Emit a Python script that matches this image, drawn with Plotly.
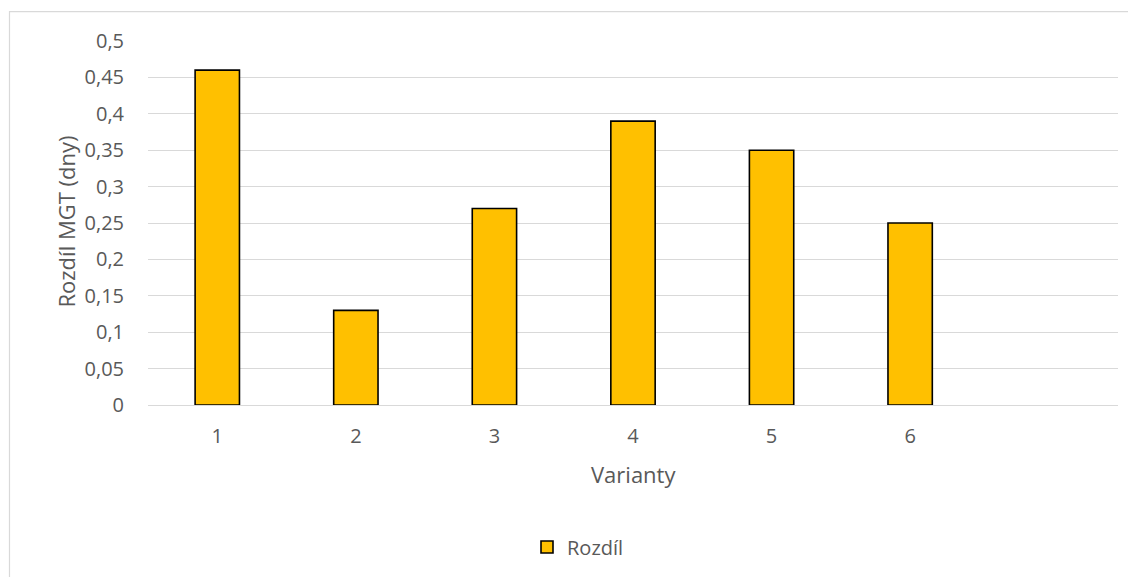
import plotly.graph_objects as go

categories = [1, 2, 3, 4, 5, 6]
category_labels = ["1", "2", "3", "4", "5", "6"]
rozdil = [0.46, 0.13, 0.27, 0.39, 0.35, 0.25]
y_ticks = [0, 0.05, 0.1, 0.15, 0.2, 0.25, 0.3, 0.35, 0.4, 0.45, 0.5]
y_tick_labels = ["0", "0,05", "0,1", "0,15", "0,2", "0,25", "0,3", "0,35", "0,4", "0,45", "0,5"]

# The page body has an 8px margin, so the figure starts at (8, 8) in the window.
OFF = 8
W, H = 1136 - OFF, 577 - OFF
PL, PR, PT, PB = 148, 1118, 41, 406  # plot area edges in window pixels
L, T = PL - OFF, PT - OFF
R = W - (PR - OFF)
B = H - (PB - OFF)
pw, ph = PR - PL, PB - PT

def px_x(x):
    return (x - PL) / pw

def px_y(y):
    return (PB - y) / ph

FONT = "Open Sans"
GREY = "#595959"

fig = go.Figure()
fig.add_trace(go.Bar(
    x=categories, y=rozdil, name="Rozdíl",
    width=0.32,
    marker=dict(color="#FFC000", line=dict(color="#000000", width=1.6)),
))

fig.update_layout(
    width=W, height=H,
    margin=dict(l=L, r=R, t=T, b=B, pad=0),
    paper_bgcolor="white", plot_bgcolor="white",
    font=dict(family=FONT, color=GREY, size=16),
    showlegend=True,
    legend=dict(orientation="h", x=px_x(578), xanchor="center",
                y=px_y(547), yanchor="middle",
                font=dict(size=20, color=GREY), itemwidth=30),
    xaxis=dict(range=[0.5, 7.5], tickvals=categories, ticktext=category_labels,
               showgrid=False, zeroline=False, showline=False,
               ticks="", ticklabelstandoff=17, tickfont=dict(size=20, color=GREY)),
    yaxis=dict(range=[0, 0.5], tickvals=y_ticks, ticktext=y_tick_labels,
               showgrid=True, gridcolor="#D9D9D9", gridwidth=1,
               zeroline=True, zerolinecolor="#D9D9D9", zerolinewidth=1,
               showline=False, ticks="", ticklabelstandoff=23,
               tickfont=dict(size=20, color=GREY)),
    annotations=[
        dict(text="Varianty", xref="paper", yref="paper", x=px_x(633), y=px_y(475),
             xanchor="center", yanchor="middle", showarrow=False,
             font=dict(size=22, color=GREY)),
        dict(text="Rozdíl MGT (dny)", xref="paper", yref="paper", x=px_x(66), y=px_y(222),
             xanchor="center", yanchor="middle", showarrow=False, textangle=-90,
             font=dict(size=22, color=GREY)),
    ],
    shapes=[
        dict(type="rect", xref="paper", yref="paper", layer="below",
             x0=px_x(9.5), x1=px_x(1150), y0=px_y(600), y1=px_y(11.5),
             line=dict(color="#D9D9D9", width=1.2), fillcolor="rgba(0,0,0,0)"),
    ],
)

fig.write_html("out.html")
